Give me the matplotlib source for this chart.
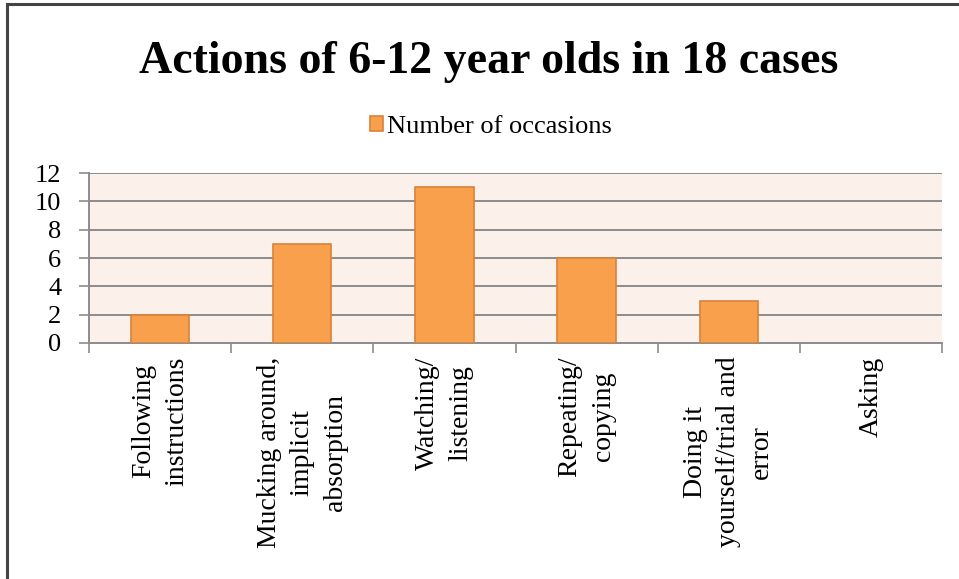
import matplotlib.pyplot as plt
import matplotlib.lines as mlines
import numpy as np

# counts of actions per category
categories = ["Following\ninstructions",
              "Mucking around,\nimplicit\nabsorption",
              "Watching/\nlistening",
              "Repeating/\ncopying",
              "Doing it\nyourself/trial and\nerror",
              "Asking"]
occasions = [2, 7, 11, 6, 3, 0]
yticks = [0, 2, 4, 6, 8, 10, 12]

serif = ["Liberation Serif", "DejaVu Serif"]
plt.rcParams['font.family'] = serif

fig = plt.figure(figsize=(9.59, 5.79), dpi=100)
ax = fig.add_axes([0.0928, 0.4076, 0.8895, 0.2936])
ax.set_facecolor("#fcf0eb")

x = np.arange(len(categories))
# no outline on empty bars
edge_w = [1.2 if v > 0 else 0 for v in occasions]
ax.bar(x, occasions, width=0.41, color="#f9a04c", edgecolor="#d9823a",
       linewidth=edge_w, zorder=3, label="Number of occasions")

ax.set_xlim(-0.5, len(categories) - 0.5)
ax.set_ylim(0, 12)
ax.set_yticks(yticks)
ax.set_yticklabels([str(v) for v in yticks], fontsize=19)
ax.yaxis.grid(True, color="#8c8c8c", linewidth=1.4, zorder=1)
ax.set_axisbelow(True)

# ticks on the category boundaries, labels drawn separately
ax.set_xticks(np.arange(-0.5, len(categories), 1.0))
ax.set_xticklabels([])
ax.tick_params(axis='x', length=7, width=1.2, color="#8c8c8c", direction='out')
ax.tick_params(axis='y', length=7, width=1.2, color="#8c8c8c", direction='out', pad=13)

for s in ["top", "right"]:
    ax.spines[s].set_visible(False)
for s in ["left", "bottom"]:
    ax.spines[s].set_color("#8c8c8c")
    ax.spines[s].set_linewidth(1.4)

for xi, lab in zip(x, categories):
    ax.text(xi, -0.95, lab, rotation=90, ha='center', va='top',
            multialignment='center', fontsize=20, linespacing=1.42)

fig.text(0.51, 0.893, "Actions of 6-12 year olds in 18 cases",
         ha='center', va='center', fontsize=33, fontweight='bold')

fig.legend(loc='center', bbox_to_anchor=(491 / 959, 1 - 127 / 579),
           frameon=False, fontsize=19, handlelength=0.5, handleheight=0.5,
           handletextpad=0.15)

# frame lines on the left and top of the figure
fig.add_artist(mlines.Line2D([7 / 959, 7 / 959], [0, 1 - 4 / 579],
                             color="#444444", linewidth=2.2))
fig.add_artist(mlines.Line2D([7 / 959, 1], [1 - 4 / 579, 1 - 4 / 579],
                             color="#444444", linewidth=2.2))

fig.savefig("out.png", dpi=100)
